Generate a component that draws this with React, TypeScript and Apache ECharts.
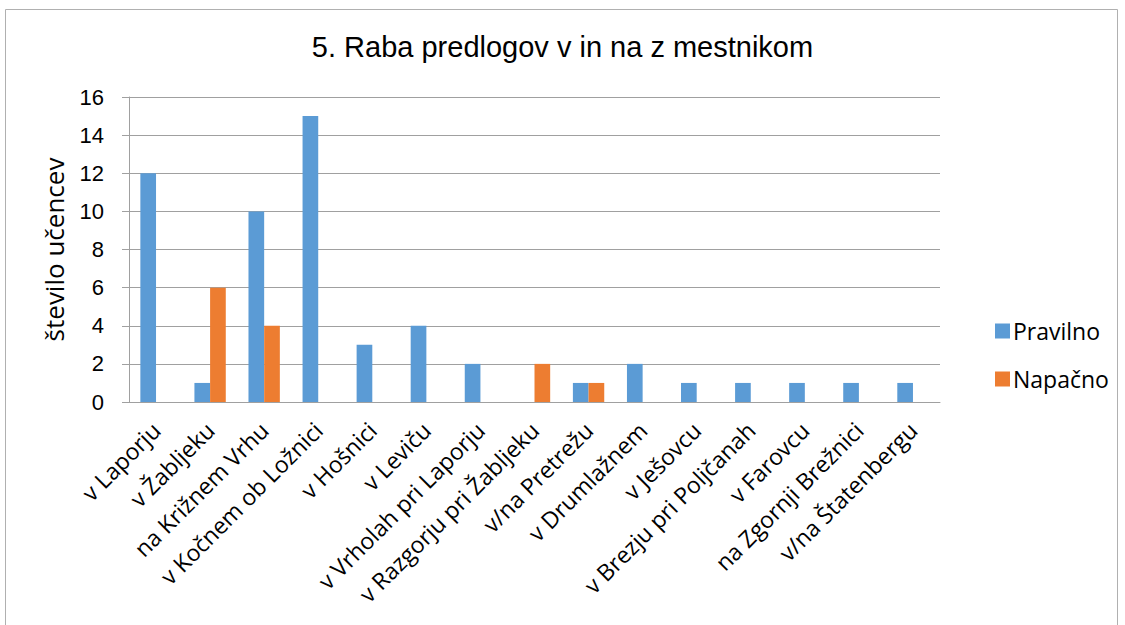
import React, { useEffect, useRef } from "react";
import * as echarts from "echarts";

const categories = [
  "v Laporju",
  "v Žabljeku",
  "na Križnem Vrhu",
  "v Kočnem ob Ložnici",
  "v Hošnici",
  "v Leviču",
  "v Vrholah pri Laporju",
  "v Razgorju pri Žabljeku",
  "v/na Pretrežu",
  "v Drumlažnem",
  "v Ješovcu",
  "v Brezju pri Poljčanah",
  "v Farovcu",
  "na Zgornji Brežnici",
  "v/na Štatenbergu",
];
const pravilno = [12, 1, 10, 15, 3, 4, 2, 0, 1, 2, 1, 1, 1, 1, 1];
const napacno = [0, 6, 4, 0, 0, 0, 0, 2, 1, 0, 0, 0, 0, 0, 0];
const title = "5. Raba predlogov v in na z mestnikom";
const yName = "število učencev";

export default function App() {
  const ref = useRef<HTMLDivElement>(null);
  useEffect(() => {
    document.body.style.margin = "0";
    const chart = echarts.init(ref.current!, null, { renderer: "svg" });
    chart.setOption({
      animation: false,
      backgroundColor: "#ffffff",
      title: {
        text: title,
        left: "center",
        top: 27,
        textStyle: {
          fontFamily: "Liberation Sans",
          fontSize: 29,
          fontWeight: "normal",
          color: "#000",
        },
      },
      graphic: [
        {
          type: "rect",
          shape: { x: 5.5, y: 9.5, width: 1112, height: 640 },
          style: { fill: "none", stroke: "#B0B0B0", lineWidth: 1 },
          silent: true,
        },
      ],
      legend: {
        orient: "vertical",
        left: 990,
        top: 314,
        itemWidth: 15,
        itemHeight: 15,
        itemGap: 24,
        icon: "rect",
        textStyle: {
          fontFamily: "Open Sans",
          fontSize: 23,
          lineHeight: 24,
          color: "#000",
          padding: [0, 0, 0, -2],
        },
        data: ["Pravilno", "Napačno"],
      },
      grid: { left: 129, right: 185, top: 97, bottom: 223, containLabel: false },
      xAxis: {
        type: "category",
        data: categories,
        axisLine: { lineStyle: { color: "#A0A0A0" } },
        axisTick: { show: false },
        axisLabel: {
          interval: 0,
          rotate: 45,
          margin: 24,
          fontFamily: "Open Sans",
          fontSize: 23,
          color: "#000",
        },
      },
      yAxis: {
        type: "value",
        min: 0,
        max: 16,
        interval: 2,
        name: yName,
        nameLocation: "middle",
        nameGap: 62,
        nameTextStyle: { fontFamily: "Open Sans", fontSize: 26, color: "#000" },
        axisLine: { show: true, lineStyle: { color: "#A0A0A0" } },
        axisTick: { show: true, length: 7, lineStyle: { color: "#A0A0A0" } },
        axisLabel: {
          margin: 25,
          fontFamily: "Liberation Sans",
          fontSize: 22,
          color: "#000",
        },
        splitLine: { lineStyle: { color: "#A0A0A0" } },
      },
      series: [
        {
          name: "Pravilno",
          type: "bar",
          data: pravilno,
          barGap: "0%",
          barCategoryGap: "42%",
          itemStyle: { color: "#5B9BD5" },
        },
        {
          name: "Napačno",
          type: "bar",
          data: napacno,
          barGap: "0%",
          barCategoryGap: "42%",
          itemStyle: { color: "#ED7D31" },
        },
      ],
    });
    return () => chart.dispose();
  }, []);
  return (
    <div
      ref={ref}
      style={{ position: "absolute", left: 0, top: 0, width: 1125, height: 625 }}
    />
  );
}
